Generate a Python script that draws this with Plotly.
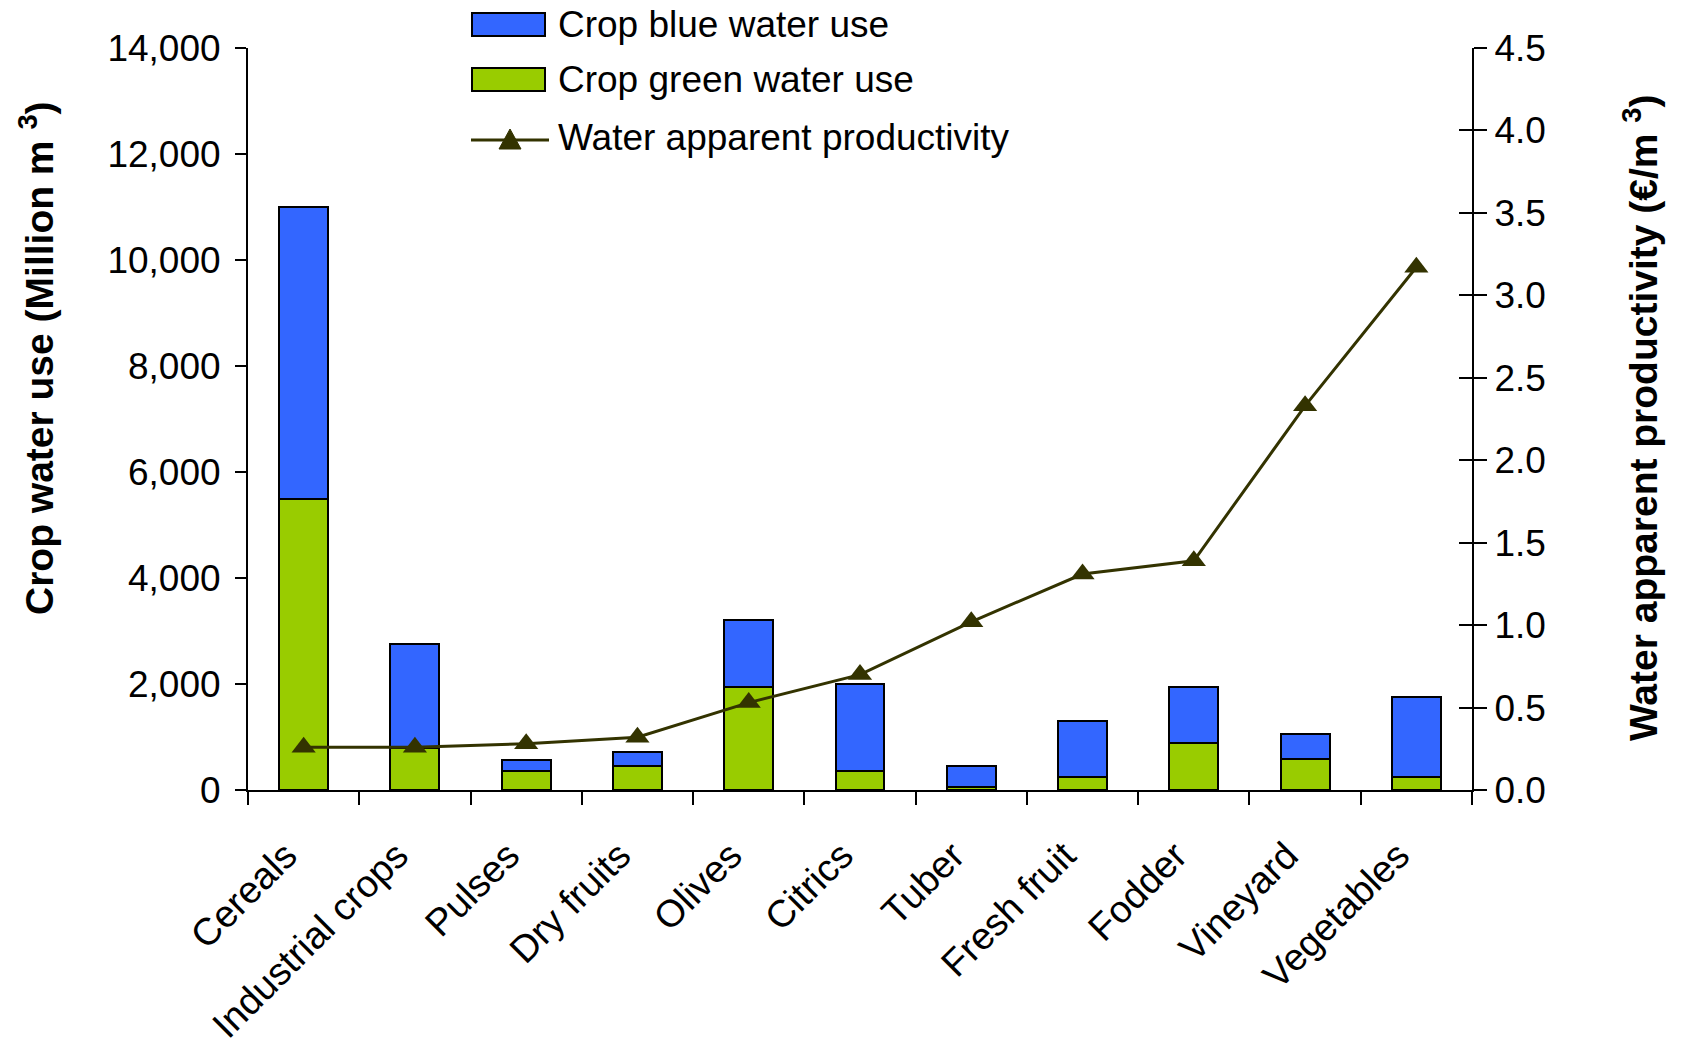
import plotly.graph_objects as go

# Crop categories and water use (million m3)
crops = ["Cereals", "Industrial crops", "Pulses", "Dry fruits", "Olives", "Citrics",
         "Tuber", "Fresh fruit", "Fodder", "Vineyard", "Vegetables"]
green_use = [5500, 800, 350, 450, 1940, 350, 50, 240, 890, 590, 240]
total_use = [11000, 2750, 560, 710, 3200, 2000, 460, 1300, 1950, 1060, 1750]
blue_use = [t - g for t, g in zip(total_use, green_use)]
# Water apparent productivity (EUR/m3)
productivity = [0.26, 0.26, 0.28, 0.32, 0.53, 0.70, 1.02, 1.31, 1.39, 2.33, 3.17]

left_ticks = list(range(0, 14001, 2000))
right_ticks = [0.0, 0.5, 1.0, 1.5, 2.0, 2.5, 3.0, 3.5, 4.0, 4.5]

BLUE = "#3366FF"
GREEN = "#99CC00"
LINE = "#333300"
FONT = "Liberation Sans, Arial, sans-serif"

fig = go.Figure()
fig.add_trace(go.Bar(x=crops, y=green_use, name="Crop green water use",
                     marker=dict(color=GREEN, line=dict(color="black", width=2)),
                     showlegend=False))
fig.add_trace(go.Bar(x=crops, y=blue_use, name="Crop blue water use",
                     marker=dict(color=BLUE, line=dict(color="black", width=2)),
                     showlegend=False))
fig.add_trace(go.Scatter(x=crops, y=productivity, yaxis="y2", mode="lines+markers",
                         name="Water apparent productivity",
                         line=dict(color=LINE, width=3),
                         marker=dict(symbol="triangle-up", size=21, color=LINE),
                         showlegend=False))
# carrier trace for the inner half of the right-axis cross ticks
fig.add_trace(go.Scatter(x=crops, y=productivity, yaxis="y3", mode="lines",
                         line=dict(width=0), opacity=0, hoverinfo="skip",
                         showlegend=False))

# plot area in pixels
L, R, T, B = 248, 1472, 48, 790
W, H = R - L, B - T


def px(x):
    return (x - L) / W


def py(y):
    return (B - y) / H


shapes = [
    dict(type="rect", xref="paper", yref="paper", x0=px(472), x1=px(545),
         y0=py(36), y1=py(13), fillcolor=BLUE, line=dict(color="black", width=2)),
    dict(type="rect", xref="paper", yref="paper", x0=px(472), x1=px(545),
         y0=py(91), y1=py(68), fillcolor=GREEN, line=dict(color="black", width=2)),
    dict(type="line", xref="paper", yref="paper", x0=px(471), x1=px(549),
         y0=py(140), y1=py(140), line=dict(color=LINE, width=3)),
    dict(type="path", xref="paper", yref="paper",
         path=f"M {px(499)},{py(149)} L {px(521)},{py(149)} L {px(510)},{py(129)} Z",
         fillcolor=LINE, line=dict(color=LINE, width=1)),
]

legend_texts = [("Crop blue water use", 24), ("Crop green water use", 79),
                ("Water apparent productivity", 137)]
annotations = [dict(text=t, xref="paper", yref="paper", x=px(556), y=py(yy),
                    xanchor="left", yanchor="middle", showarrow=False,
                    font=dict(size=37, color="black", family=FONT))
               for t, yy in legend_texts]
annotations.append(dict(text="<b>Crop water use (Million m <sup>3</sup>)</b>",
                        xref="paper", yref="paper", x=px(37), y=py(358),
                        textangle=-90, showarrow=False, xanchor="center", yanchor="middle",
                        font=dict(size=39, color="black", family=FONT)))
annotations.append(dict(text="<b>Water apparent productivity (€/m <sup>3</sup>)</b>",
                        xref="paper", yref="paper", x=px(1640), y=py(418),
                        textangle=-90, showarrow=False, xanchor="center", yanchor="middle",
                        font=dict(size=39, color="black", family=FONT)))

fig.update_layout(
    barmode="stack",
    bargap=0.56,
    width=1681, height=1045,
    margin=dict(l=L, r=1681 - R, t=T, b=1045 - B, pad=0, autoexpand=False),
    paper_bgcolor="white", plot_bgcolor="white",
    font=dict(family=FONT, color="black", size=37),
    shapes=shapes,
    annotations=annotations,
    xaxis=dict(range=[-0.5, 10.5], showline=True, linecolor="black", linewidth=2,
               ticks="outside", tickson="boundaries", ticklen=13, tickwidth=2,
               tickcolor="black", tickangle=-45, tickfont=dict(size=38),
               showgrid=False, ticklabelstandoff=26, ticklabelshift=-18,
               automargin=False),
    yaxis=dict(range=[0, 14000], tickvals=left_ticks, tickformat=",",
               showline=True, linecolor="black", linewidth=2, ticks="outside",
               ticklen=11, tickwidth=2, tickcolor="black", showgrid=False,
               zeroline=False, tickfont=dict(size=37), ticklabelstandoff=7,
               automargin=False),
    yaxis2=dict(range=[0, 4.5], tickvals=right_ticks, tickformat=".1f",
                overlaying="y", side="right", showline=True, linecolor="black",
                linewidth=2, ticks="outside", ticklen=13, tickwidth=2,
                tickcolor="black", showgrid=False, zeroline=False,
                tickfont=dict(size=37), automargin=False),
    yaxis3=dict(range=[0, 4.5], tickvals=right_ticks, overlaying="y", side="right",
                showline=False, ticks="inside", ticklen=13, tickwidth=2,
                tickcolor="black", showticklabels=False, showgrid=False,
                zeroline=False, automargin=False),
)

fig.write_html("out.html")
